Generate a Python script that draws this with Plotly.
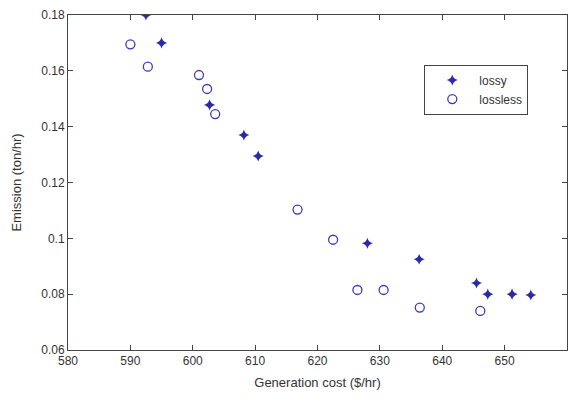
import plotly.graph_objects as go

lossy_cost = [592.5, 595.0, 602.7, 608.2, 610.5, 628.0, 636.3, 645.5, 647.3, 651.2, 654.2]
lossy_emis = [0.1800, 0.1700, 0.1478, 0.1370, 0.1295, 0.0982, 0.0925, 0.0840, 0.0800, 0.0800, 0.0797]
lossless_cost = [590.0, 592.8, 601.0, 602.3, 603.6, 616.8, 622.5, 626.4, 630.6, 636.4, 646.1]
lossless_emis = [0.1695, 0.1615, 0.1585, 0.1535, 0.1445, 0.1103, 0.0995, 0.0815, 0.0815, 0.0752, 0.0740]
x_ticks = [580, 590, 600, 610, 620, 630, 640, 650, 660]
y_ticks = [0.06, 0.08, 0.1, 0.12, 0.14, 0.16, 0.18]

fig = go.Figure()
fig.add_trace(go.Scatter(x=lossy_cost, y=lossy_emis, mode="markers", name="lossy",
                         marker=dict(symbol="star-diamond", size=8, color="#2a2aa8")))
fig.add_trace(go.Scatter(x=lossless_cost, y=lossless_emis, mode="markers", name="lossless",
                         marker=dict(symbol="circle-open", size=9, color="#3a3ac4",
                                     line=dict(width=1.3, color="#3a3ac4"))))

axis_common = dict(showline=True, linecolor="#444", linewidth=1, mirror="ticks",
                   ticks="inside", ticklen=5, tickcolor="#444", showgrid=False,
                   zeroline=False, tickfont=dict(family="Liberation Sans, Arial", size=12, color="#333"))
fig.update_xaxes(range=[580, 660], tickvals=x_ticks, **axis_common,
                 title=dict(text="Generation cost ($/hr)", font=dict(family="Liberation Sans, Arial", size=13, color="#333"), standoff=10))
fig.update_yaxes(range=[0.06, 0.18], tickvals=y_ticks, **axis_common,
                 title=dict(text="Emission (ton/hr)", font=dict(family="Liberation Sans, Arial", size=13, color="#333"), standoff=16))
fig.update_layout(
    width=576, height=401,
    margin=dict(l=68, r=8, t=12, b=51),
    paper_bgcolor="white", plot_bgcolor="white",
    showlegend=True,
    legend=dict(x=0.714, y=0.852, xanchor="left", yanchor="top",
                bordercolor="#444", borderwidth=1, bgcolor="white",
                font=dict(family="Liberation Sans, Arial", size=12, color="#333"),
                itemwidth=44),
)
fig.write_html("out.html")
